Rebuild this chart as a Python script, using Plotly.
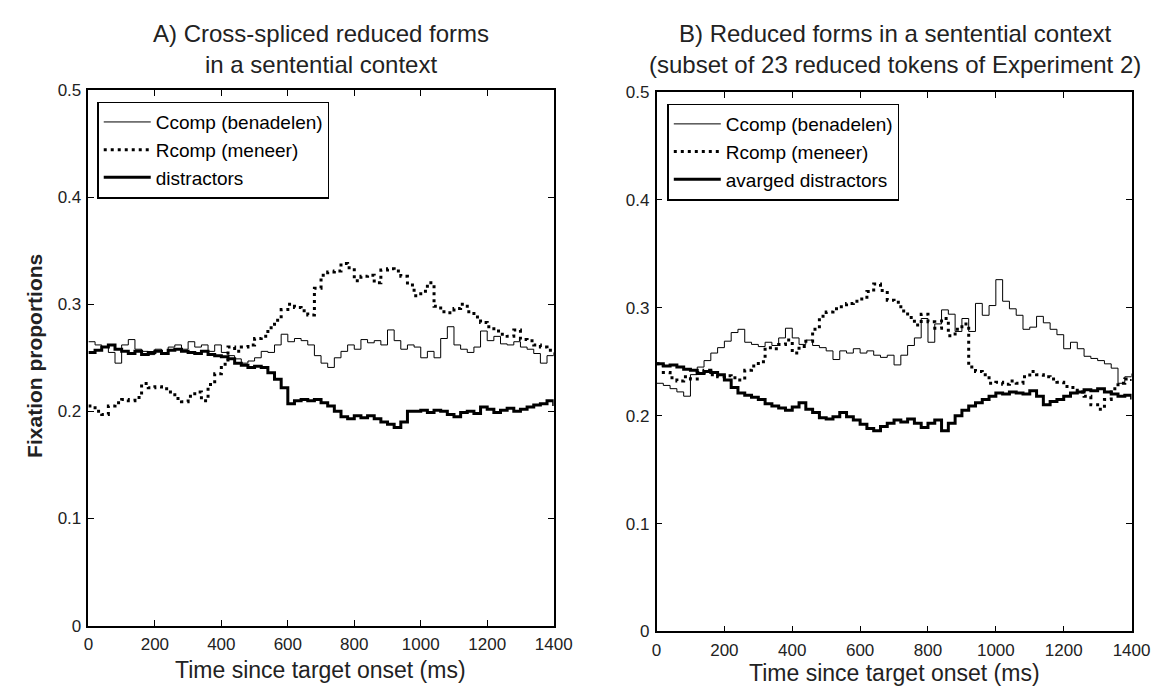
"""Fixation proportions over time, two panels (A and B)."""

import plotly.graph_objects as go

# time axis (ms), one sample every 20 ms
time_ms = list(range(0, 1401, 20))

# Panel A: cross-spliced reduced forms in a sentential context
a_ccomp = [
    0.265, 0.262, 0.260, 0.255, 0.245, 0.262, 0.267, 0.258, 0.256, 0.253,
    0.258, 0.254, 0.260, 0.262, 0.258, 0.265, 0.260, 0.262, 0.256, 0.262,
    0.255, 0.252, 0.249, 0.245, 0.247, 0.250, 0.256, 0.255, 0.262, 0.272,
    0.265, 0.268, 0.266, 0.262, 0.252, 0.245, 0.241, 0.250, 0.256, 0.262,
    0.258, 0.267, 0.264, 0.266, 0.262, 0.276, 0.266, 0.258, 0.262, 0.260,
    0.250, 0.256, 0.250, 0.268, 0.279, 0.262, 0.258, 0.255, 0.260, 0.275,
    0.266, 0.270, 0.263, 0.262, 0.265, 0.260, 0.258, 0.254, 0.245, 0.252,
    0.255,
]
a_rcomp = [
    0.205, 0.200, 0.197, 0.205, 0.208, 0.211, 0.210, 0.213, 0.226, 0.222,
    0.223, 0.221, 0.218, 0.212, 0.209, 0.214, 0.218, 0.210, 0.225, 0.235,
    0.244, 0.260, 0.256, 0.260, 0.262, 0.268, 0.270, 0.278, 0.285, 0.295,
    0.300, 0.297, 0.294, 0.290, 0.315, 0.327, 0.330, 0.331, 0.338, 0.334,
    0.322, 0.326, 0.327, 0.320, 0.332, 0.333, 0.331, 0.326, 0.318, 0.308,
    0.312, 0.320, 0.298, 0.293, 0.292, 0.296, 0.300, 0.293, 0.288, 0.283,
    0.279, 0.275, 0.272, 0.270, 0.276, 0.267, 0.266, 0.262, 0.260, 0.257,
    0.255,
]
a_distr = [
    0.255, 0.257, 0.260, 0.262, 0.258, 0.256, 0.254, 0.256, 0.253, 0.255,
    0.256, 0.254, 0.257, 0.258, 0.256, 0.255, 0.254, 0.256, 0.253, 0.252,
    0.251, 0.249, 0.245, 0.243, 0.241, 0.242, 0.241, 0.236, 0.230, 0.222,
    0.207, 0.210, 0.211, 0.210, 0.211, 0.208, 0.205, 0.200, 0.195, 0.193,
    0.196, 0.194, 0.196, 0.193, 0.190, 0.188, 0.185, 0.190, 0.200, 0.200,
    0.201, 0.199, 0.201, 0.200, 0.197, 0.195, 0.199, 0.200, 0.198, 0.204,
    0.202, 0.199, 0.201, 0.203, 0.200, 0.202, 0.204, 0.206, 0.207, 0.210,
    0.205,
]

# Panel B: reduced forms in a sentential context (subset of 23 tokens)
b_ccomp = [
    0.230, 0.228, 0.225, 0.222, 0.218, 0.238, 0.245, 0.251, 0.258, 0.263,
    0.269, 0.277, 0.280, 0.268, 0.266, 0.264, 0.268, 0.265, 0.272, 0.281,
    0.272, 0.266, 0.270, 0.265, 0.263, 0.260, 0.252, 0.260, 0.258, 0.262,
    0.258, 0.260, 0.256, 0.254, 0.256, 0.247, 0.256, 0.265, 0.272, 0.290,
    0.268, 0.285, 0.298, 0.294, 0.278, 0.290, 0.278, 0.304, 0.293, 0.302,
    0.326, 0.306, 0.299, 0.293, 0.280, 0.282, 0.292, 0.286, 0.280, 0.275,
    0.262, 0.268, 0.262, 0.255, 0.253, 0.251, 0.248, 0.244, 0.230, 0.236,
    0.239,
]
b_rcomp = [
    0.248, 0.240, 0.235, 0.232, 0.236, 0.234, 0.240, 0.242, 0.238, 0.236,
    0.237, 0.235, 0.233, 0.242, 0.246, 0.250, 0.263, 0.262, 0.266, 0.270,
    0.258, 0.264, 0.269, 0.280, 0.292, 0.296, 0.299, 0.301, 0.304, 0.306,
    0.308, 0.315, 0.322, 0.316, 0.307, 0.305, 0.297, 0.291, 0.284, 0.294,
    0.287, 0.281, 0.290, 0.274, 0.280, 0.285, 0.245, 0.241, 0.238, 0.230,
    0.231, 0.229, 0.232, 0.230, 0.236, 0.241, 0.238, 0.236, 0.234, 0.231,
    0.227, 0.226, 0.222, 0.218, 0.210, 0.206, 0.215, 0.225, 0.230, 0.234,
    0.232,
]
b_distr = [
    0.248, 0.246, 0.247, 0.245, 0.243, 0.242, 0.239, 0.241, 0.240, 0.238,
    0.233, 0.226, 0.221, 0.219, 0.217, 0.215, 0.211, 0.209, 0.207, 0.205,
    0.208, 0.212, 0.206, 0.203, 0.198, 0.197, 0.199, 0.203, 0.199, 0.196,
    0.192, 0.188, 0.186, 0.190, 0.193, 0.196, 0.194, 0.197, 0.193, 0.189,
    0.193, 0.196, 0.186, 0.193, 0.200, 0.205, 0.209, 0.212, 0.215, 0.218,
    0.221, 0.220, 0.222, 0.221, 0.220, 0.223, 0.218, 0.210, 0.213, 0.215,
    0.218, 0.221, 0.222, 0.224, 0.223, 0.225, 0.222, 0.220, 0.218, 0.219,
    0.215,
]

x_ticks = [0, 200, 400, 600, 800, 1000, 1200, 1400]
y_ticks = [0, 0.1, 0.2, 0.3, 0.4, 0.5]

FONT = "Liberation Sans, Arial, sans-serif"
THIN = dict(color="black", width=1)
DOTTED = dict(color="black", width=3, dash="3px,4px")
THICK = dict(color="black", width=3)

fig = go.Figure()

panels = [
    ("x", "y", "legend", a_ccomp, a_rcomp, a_distr, "distractors"),
    ("x2", "y2", "legend2", b_ccomp, b_rcomp, b_distr, "avarged distractors"),
]
for xa, ya, leg, cc, rc, dd, dname in panels:
    for name, vals, style in [
        ("Ccomp (benadelen)", cc, THIN),
        ("Rcomp (meneer)", rc, DOTTED),
        (dname, dd, THICK),
    ]:
        fig.add_trace(go.Scatter(
            x=time_ms, y=vals, mode="lines", name=name, line=dict(shape="hv", **style),
            xaxis=xa, yaxis=ya, legend=leg, hoverinfo="skip",
        ))

axis_common = dict(
    showline=True, linecolor="black", linewidth=1.5, mirror="ticks",
    ticks="inside", ticklen=6, tickwidth=1.2, tickcolor="black",
    showgrid=False, zeroline=False, ticklabelstandoff=2,
    tickfont=dict(family=FONT, size=17, color="#222"),
)
legend_common = dict(
    xanchor="left", yanchor="top", bordercolor="black", borderwidth=1.5, bgcolor="white",
    font=dict(family=FONT, size=19), itemwidth=47, tracegroupgap=0,
)
fig.update_layout(
    width=1170, height=686, margin=dict(l=0, r=0, t=0, b=0),
    plot_bgcolor="white", paper_bgcolor="white",
    font=dict(family=FONT, color="black"),
    xaxis=dict(domain=[77 / 1170, 552 / 1170], range=[0, 1400], tickvals=x_ticks, anchor="y", **axis_common),
    yaxis=dict(domain=[60 / 686, 611 / 686], range=[0, 0.5], tickvals=y_ticks, anchor="x", **axis_common),
    xaxis2=dict(domain=[657 / 1170, 1142 / 1170], range=[0, 1400], tickvals=x_ticks, anchor="y2", **axis_common),
    yaxis2=dict(domain=[54 / 686, 609 / 686], range=[0, 0.5], tickvals=y_ticks, anchor="x2", **axis_common),
    legend=dict(x=86 / 1170, y=(686 - 87) / 686, **legend_common),
    legend2=dict(x=668 / 1170, y=(686 - 89) / 686, **legend_common),
    showlegend=True,
)

titles = [
    (314 / 1170, "A) Cross-spliced reduced forms<br>in a sentential context"),
    (900 / 1170, "B) Reduced forms in a sentential context<br>(subset of 23 reduced tokens of Experiment 2)"),
]
for xc, text in titles:
    fig.add_annotation(
        x=xc, y=(686 - 1) / 686, xref="paper", yref="paper", xanchor="center", yanchor="top",
        text=text, showarrow=False, font=dict(family=FONT, size=24, color="#222"),
    )

for xc, yc in [(314 / 1170, (686 - 672) / 686), (900 / 1170, (686 - 675) / 686)]:
    fig.add_annotation(
        x=xc, y=yc, xref="paper", yref="paper", xanchor="center", yanchor="middle",
        text="Time since target onset (ms)", showarrow=False,
        font=dict(family=FONT, size=23, color="#222"),
    )

fig.add_annotation(
    x=22 / 1170, y=(686 - 349) / 686, xref="paper", yref="paper", xanchor="center", yanchor="middle",
    text="<b>Fixation proportions</b>", textangle=-90, showarrow=False,
    font=dict(family=FONT, size=21, color="#222"),
)

fig.write_html("out.html")
